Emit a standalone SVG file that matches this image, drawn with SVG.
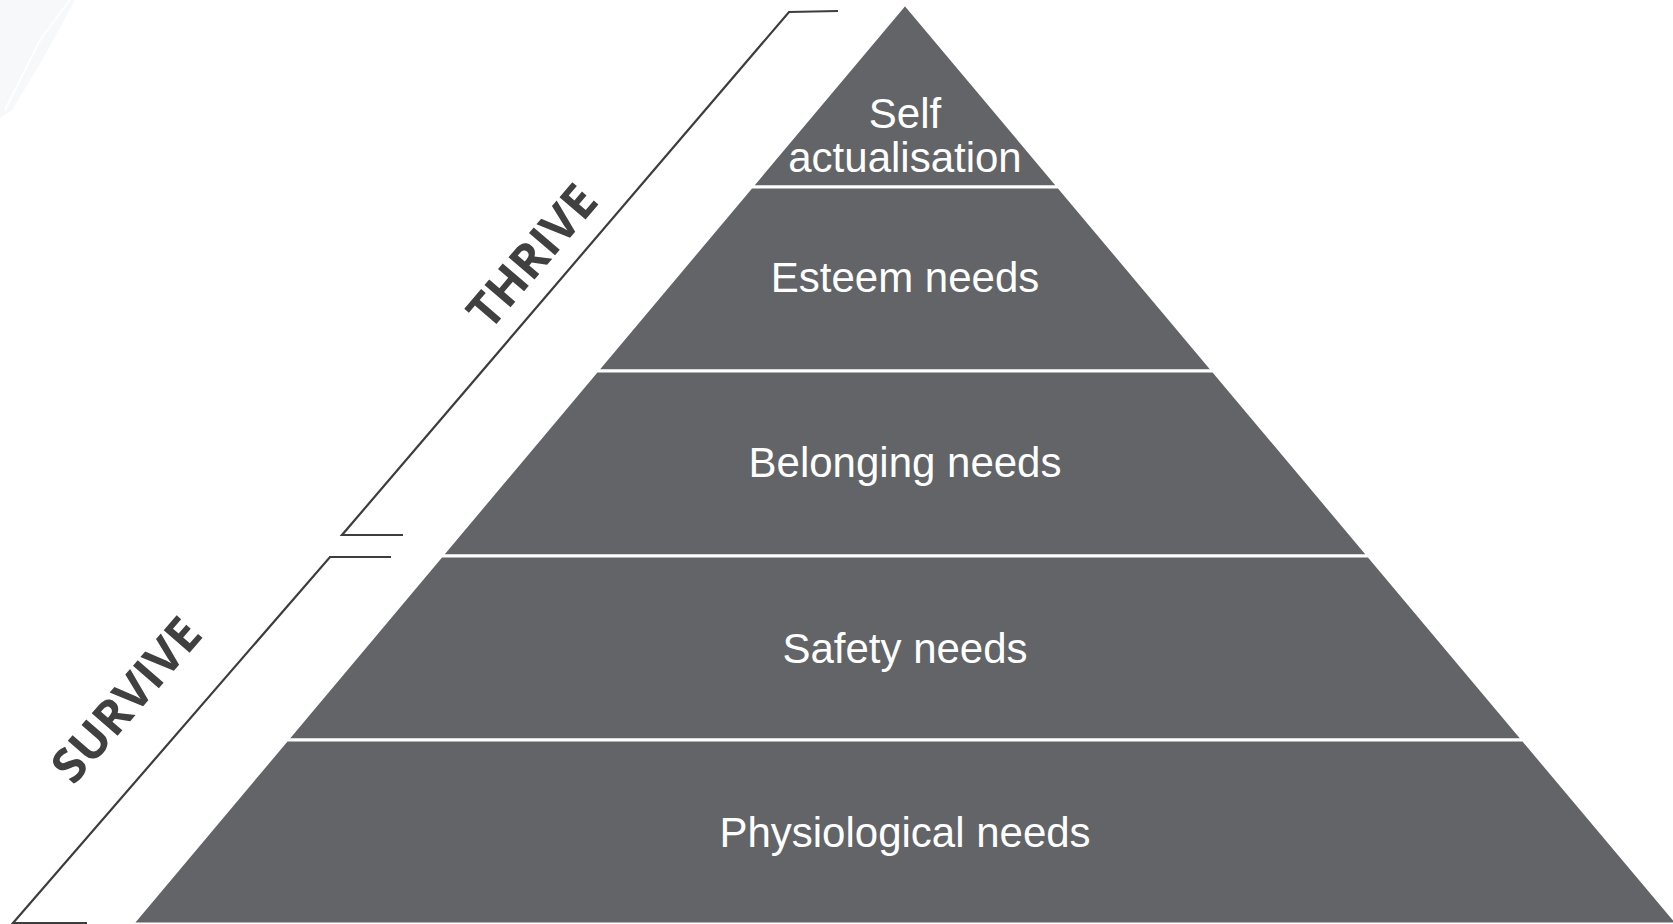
<svg xmlns="http://www.w3.org/2000/svg" width="1673" height="924" viewBox="0 0 1673 924">
  <style>
    .band { fill: #636468; stroke: #ffffff; stroke-width: 3; stroke-linejoin: miter; }
    .lbl { font-family: "Liberation Sans", Arial, sans-serif; font-size: 42px; fill: #ffffff; text-anchor: middle; }
    .brk { fill: none; stroke: #3d3d3d; stroke-width: 2.2; }
    .tag { font-family: "Open Sans", "DejaVu Sans", sans-serif; font-weight: 700; font-size: 48px; fill: #404040; text-anchor: middle; }
  </style>
  <rect width="1673" height="924" fill="#ffffff"/>
  <g id="watermark" opacity="0.5">
    <path d="M0,0 L75,0 L45,55 L12,110 L0,118 Z" fill="#eef3f7"/>
    <path d="M5,110 L40,40 L70,0" fill="none" stroke="#ffffff" stroke-width="2"/>
  </g>
  <g id="self-actualisation">
    <polygon class="band" points="905,4 1058.7,187 751.3,187"/>
    <text class="lbl" x="905" y="128">Self</text>
    <text class="lbl" x="905" y="172">actualisation</text>
  </g>
  <g id="esteem">
    <polygon class="band" points="751.3,187 1058.7,187 1213.3,371 596.7,371"/>
    <text class="lbl" x="905" y="292">Esteem needs</text>
  </g>
  <g id="belonging">
    <polygon class="band" points="596.7,371 1213.3,371 1368.7,556 441.3,556"/>
    <text class="lbl" x="905" y="477">Belonging needs</text>
  </g>
  <g id="safety">
    <polygon class="band" points="441.3,556 1368.7,556 1523.2,740 286.8,740"/>
    <text class="lbl" x="905" y="663">Safety needs</text>
  </g>
  <g id="physiological">
    <polygon class="band" points="286.8,740 1523.2,740 1677.8,924 132.2,924"/>
    <text class="lbl" x="905" y="847">Physiological needs</text>
  </g>
  <g id="connectors">
    <polyline class="brk" points="838,11 789,12 342,535 403,535"/>
    <polyline class="brk" points="391,557 330,557 13,923 87,923"/>
  </g>
  <g id="thrive">
    <text class="tag" transform="translate(545,267) rotate(-49.5)" x="0" y="0">THRIVE</text>
  </g>
  <g id="survive">
    <text class="tag" transform="translate(139,711) rotate(-49)" x="0" y="0">SURVIVE</text>
  </g>
</svg>
